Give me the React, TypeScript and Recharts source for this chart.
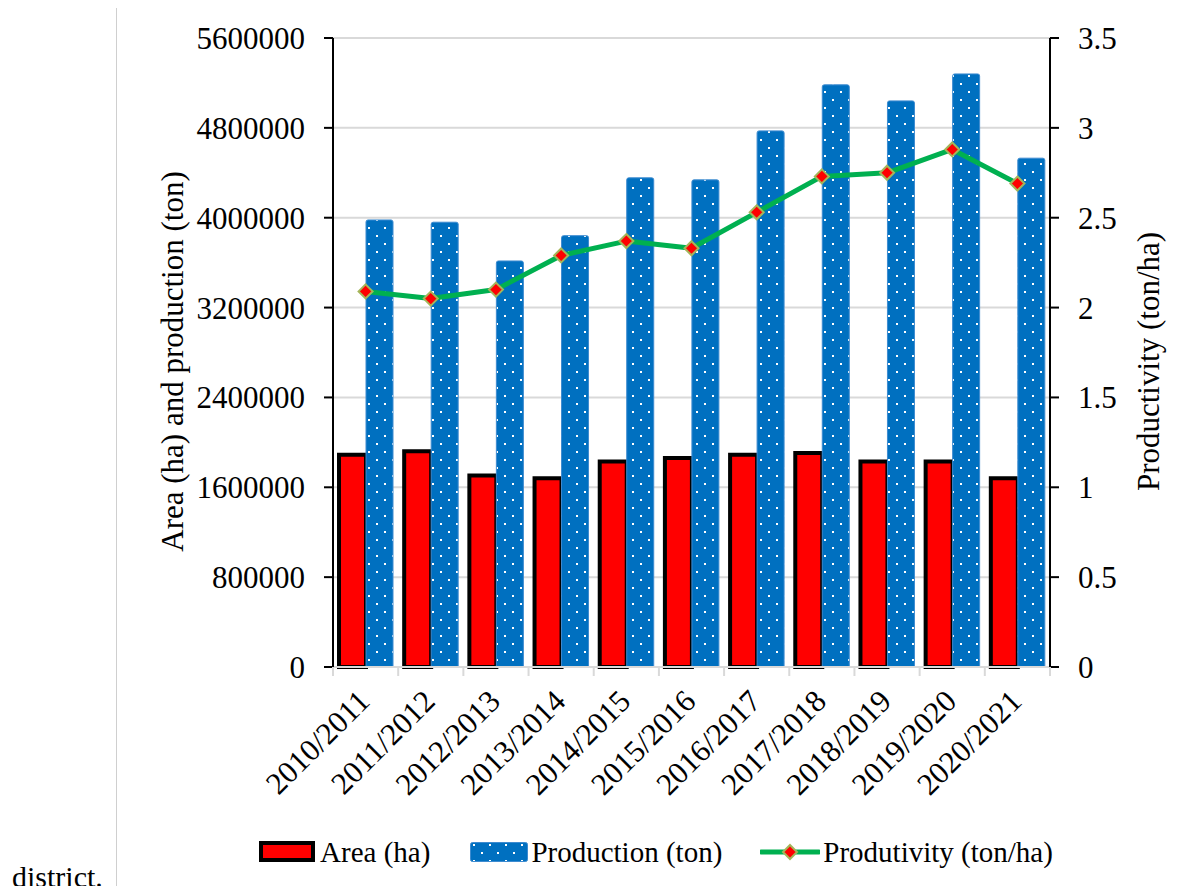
import React from 'react';
import {
  ComposedChart,
  Bar,
  Line,
  XAxis,
  YAxis,
  CartesianGrid,
  Legend,
} from 'recharts';

const SEASONS = [
  '2010/2011', '2011/2012', '2012/2013', '2013/2014', '2014/2015', '2015/2016',
  '2016/2017', '2017/2018', '2018/2019', '2019/2020', '2020/2021',
];
const AREA_HA = [1890000, 1920000, 1705000, 1680000, 1830000, 1860000, 1890000, 1905000, 1830000, 1830000, 1680000];
const PRODUCTION_TON = [3980000, 3960000, 3615000, 3840000, 4355000, 4337000, 4773000, 5183000, 5040000, 5280000, 4530000];
const PRODUCTIVITY = [2.09, 2.05, 2.1, 2.29, 2.37, 2.33, 2.53, 2.73, 2.75, 2.88, 2.69];
const LEFT_TICKS = [0, 800000, 1600000, 2400000, 3200000, 4000000, 4800000, 5600000];
const RIGHT_TICKS = [0, 0.5, 1, 1.5, 2, 2.5, 3, 3.5];

const FONT = "'Liberation Serif', 'Times New Roman', serif";
const GRID = '#d9d9d9';
const RED = '#FF0000';
const BLUE = '#0070C0';
const GREEN = '#00B050';

const data = SEASONS.map((season, i) => ({
  season,
  area: AREA_HA[i],
  production: PRODUCTION_TON[i],
  productivity: PRODUCTIVITY[i],
}));

// white dots on blue, rows staggered
function DotPattern({ id }: { id: string }) {
  return (
    <pattern id={id} width={16} height={16} patternUnits="userSpaceOnUse">
      <rect width={16} height={16} fill={BLUE} />
      <rect x={3} y={3} width={2} height={2} fill="#fff" />
      <rect x={11} y={11} width={2} height={2} fill="#fff" />
    </pattern>
  );
}

function Diamond({ cx, cy, r = 7 }: { cx: number; cy: number; r?: number }) {
  return (
    <polygon
      points={`${cx},${cy - r} ${cx + r},${cy} ${cx},${cy + r} ${cx - r},${cy}`}
      fill={RED}
      stroke="#A5B55A"
      strokeWidth={2}
    />
  );
}

function SeasonTick(props: any) {
  const { x, y, payload, index, visibleTicksCount } = props;
  const half = payload?.offset ?? 0;
  const tx = x + 6;
  const ty = y + 36;
  return (
    <g>
      <line x1={x - half} x2={x - half} y1={y} y2={y + 9} stroke={GRID} strokeWidth={2} />
      {index === visibleTicksCount - 1 && (
        <line x1={x + half} x2={x + half} y1={y} y2={y + 9} stroke={GRID} strokeWidth={2} />
      )}
      <text
        x={tx}
        y={ty}
        transform={`rotate(-45 ${tx} ${ty})`}
        textAnchor="end"
        fontSize={31}
        fontFamily={FONT}
        fill="#000"
      >
        {payload.value}
      </text>
    </g>
  );
}

function AxisTitle({ viewBox, text, dx }: any) {
  const cx = viewBox.x + dx;
  const cy = viewBox.y + viewBox.height / 2 + 9;
  return (
    <text
      x={cx}
      y={cy}
      transform={`rotate(-90 ${cx} ${cy})`}
      textAnchor="middle"
      dominantBaseline="central"
      fontSize={31}
      fontFamily={FONT}
      fill="#000"
    >
      {text}
    </text>
  );
}

function LegendRow() {
  const label = { fontSize: 29, fontFamily: FONT, color: '#000', lineHeight: '36px' };
  return (
    <div
      style={{
        display: 'flex',
        justifyContent: 'center',
        alignItems: 'center',
        height: 36,
        paddingRight: 26,
      }}
    >
      <div style={{ display: 'flex', alignItems: 'center', marginRight: 40 }}>
        <svg width={56} height={22} style={{ marginRight: 5 }}>
          <rect x={2} y={2} width={52} height={17} fill={RED} stroke="#000" strokeWidth={4} />
        </svg>
        <span style={label}>Area (ha)</span>
      </div>
      <div style={{ display: 'flex', alignItems: 'center', marginRight: 38 }}>
        <svg width={58} height={22} style={{ marginRight: 3 }}>
          <defs>
            <DotPattern id="legendDots" />
          </defs>
          <rect x={0.5} y={1.5} width={57} height={19} rx={2} fill="url(#legendDots)" stroke="#3d8bd0" />
        </svg>
        <span style={label}>Production (ton)</span>
      </div>
      <div style={{ display: 'flex', alignItems: 'center' }}>
        <svg width={60} height={22} style={{ marginRight: 3 }}>
          <line x1={1} x2={59} y1={11} y2={11} stroke={GREEN} strokeWidth={5} strokeLinecap="round" />
          <Diamond cx={30} cy={11} r={7} />
        </svg>
        <span style={label}>Produtivity (ton/ha)</span>
      </div>
    </div>
  );
}

export default function App() {
  return (
    <div style={{ position: 'relative', width: 1195, height: 894, margin: -8, fontFamily: FONT }}>
      <div
        style={{
          position: 'absolute',
          left: 12,
          top: 860,
          fontSize: 30,
          color: '#000',
        }}
      >
        district.
      </div>
      <div
        style={{
          position: 'absolute',
          left: 116,
          top: 7,
          width: 1074,
          height: 880,
          border: '1.5px solid #cfcfcf',
          background: '#fff',
        }}
      >
        <ComposedChart
          width={1074}
          height={880}
          data={data}
          margin={{ top: 30, right: 10, bottom: 18, left: 40 }}
          barGap={0}
        >
          <defs>
            <DotPattern id="prodDots" />
          </defs>
          <CartesianGrid yAxisId="left" vertical={false} stroke={GRID} strokeWidth={2} />
          <XAxis
            dataKey="season"
            height={167}
            interval={0}
            axisLine={{ stroke: GRID, strokeWidth: 2 }}
            tickLine={false}
            tickSize={0}
            tickMargin={0}
            tick={<SeasonTick />}
          />
          <YAxis
            yAxisId="left"
            width={176}
            domain={[0, 5600000]}
            ticks={LEFT_TICKS}
            interval={0}
            axisLine={{ stroke: '#000', strokeWidth: 2 }}
            tickLine={{ stroke: '#000', strokeWidth: 2 }}
            tickSize={9}
            tickMargin={19}
            tick={{ fontSize: 31, fontFamily: FONT, fill: '#000' }}
            label={{ content: (p: any) => <AxisTitle {...p} text="Area (ha) and production (ton)" dx={15} /> }}
          />
          <YAxis
            yAxisId="right"
            orientation="right"
            width={131}
            domain={[0, 3.5]}
            ticks={RIGHT_TICKS}
            interval={0}
            axisLine={{ stroke: '#000', strokeWidth: 2 }}
            tickLine={{ stroke: '#000', strokeWidth: 2 }}
            tickSize={9}
            tickMargin={19}
            tick={{ fontSize: 31, fontFamily: FONT, fill: '#000' }}
            label={{ content: (p: any) => <AxisTitle {...p} text="Productivity (ton/ha)" dx={98} /> }}
          />
          <Bar
            yAxisId="left"
            dataKey="area"
            name="Area (ha)"
            barSize={27}
            fill={RED}
            stroke="#000"
            strokeWidth={4}
            isAnimationActive={false}
          />
          <Bar
            yAxisId="left"
            dataKey="production"
            name="Production (ton)"
            barSize={27}
            fill="url(#prodDots)"
            stroke="#3d8bd0"
            strokeWidth={1}
            radius={[2, 2, 0, 0]}
            isAnimationActive={false}
          />
          <Line
            yAxisId="right"
            dataKey="productivity"
            name="Produtivity (ton/ha)"
            stroke={GREEN}
            strokeWidth={5}
            strokeLinejoin="round"
            dot={(p: any) => <Diamond key={`dot-${p.index}`} cx={p.cx} cy={p.cy} />}
            activeDot={false}
            isAnimationActive={false}
          />
          <Legend verticalAlign="bottom" content={<LegendRow />} />
        </ComposedChart>
      </div>
    </div>
  );
}
